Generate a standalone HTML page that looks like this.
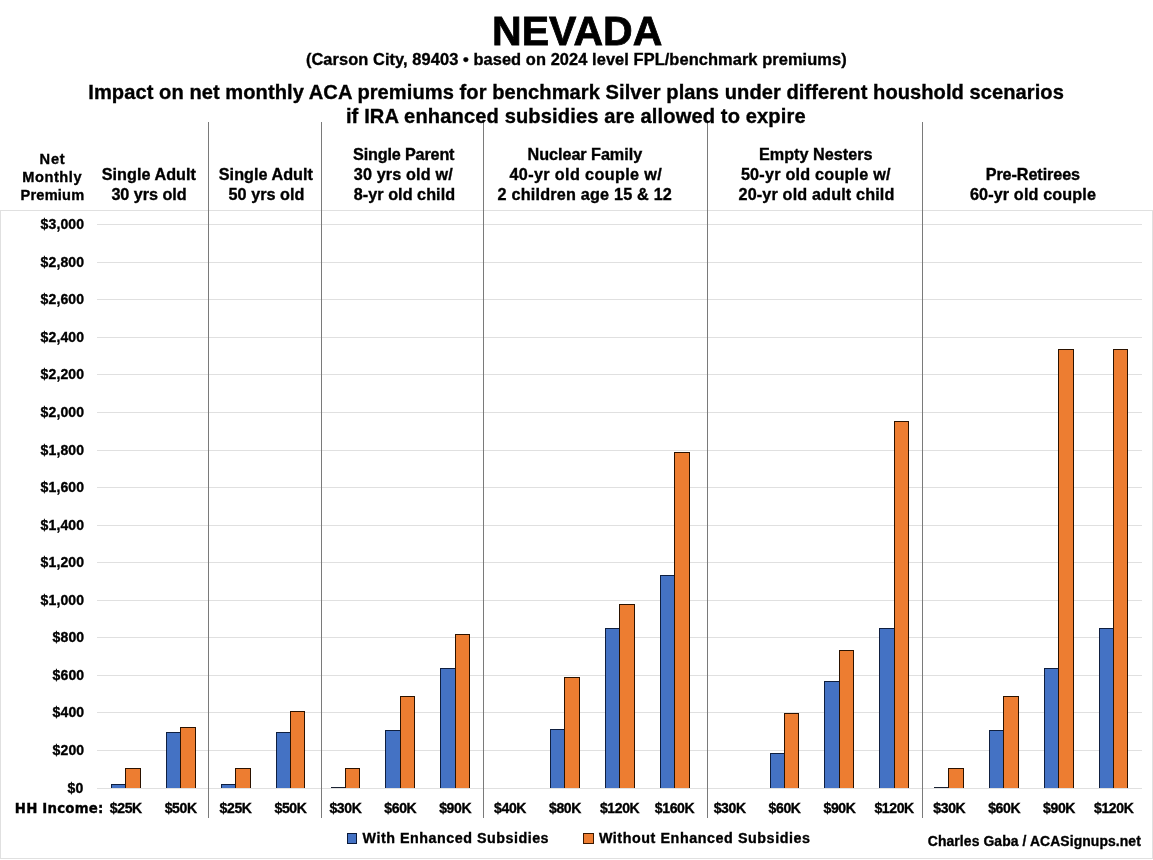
<!DOCTYPE html><html><head><meta charset="utf-8"><title>Nevada ACA premiums</title><style>*{margin:0;padding:0;box-sizing:border-box}
html,body{width:1153px;height:860px;overflow:hidden;background:#fff}
body{position:relative;font-weight:bold;color:#000}
.t{position:absolute;white-space:nowrap;font-weight:bold;-webkit-text-stroke:0.35px #000}
.ls{font-family:'Liberation Sans',Arial,sans-serif}
.dj{font-family:'DejaVu Sans',Verdana,sans-serif}
.g{position:absolute;height:1px;background:#e0e0e0}
.s{position:absolute;width:1px;background:#7a7a7a}
.b{position:absolute;background:#4472c4;border:1px solid #0f1f3f;border-bottom:0}
.o{position:absolute;background:#ed7d31;border:1px solid #2a1200;border-bottom:0}
.z{position:absolute;height:1px;background:#1a2233}
</style></head><body>
<div style="position:absolute;left:0;top:210px;width:1153px;height:649px;border:1px solid #e0e0e0"></div>
<div class="g" style="left:97px;top:788px;width:1045px"></div>
<div class="g" style="left:97px;top:750px;width:1045px"></div>
<div class="g" style="left:97px;top:712px;width:1045px"></div>
<div class="g" style="left:97px;top:675px;width:1045px"></div>
<div class="g" style="left:97px;top:637px;width:1045px"></div>
<div class="g" style="left:97px;top:600px;width:1045px"></div>
<div class="g" style="left:97px;top:562px;width:1045px"></div>
<div class="g" style="left:97px;top:525px;width:1045px"></div>
<div class="g" style="left:97px;top:487px;width:1045px"></div>
<div class="g" style="left:97px;top:450px;width:1045px"></div>
<div class="g" style="left:97px;top:412px;width:1045px"></div>
<div class="g" style="left:97px;top:374px;width:1045px"></div>
<div class="g" style="left:97px;top:337px;width:1045px"></div>
<div class="g" style="left:97px;top:299px;width:1045px"></div>
<div class="g" style="left:97px;top:262px;width:1045px"></div>
<div class="g" style="left:97px;top:224px;width:1045px"></div>
<div class="b" style="left:111px;top:784px;width:15px;height:4px"></div>
<div class="o" style="left:125px;top:768px;width:16px;height:20px"></div>
<div class="b" style="left:166px;top:732px;width:15px;height:56px"></div>
<div class="o" style="left:180px;top:727px;width:16px;height:61px"></div>
<div class="b" style="left:221px;top:784px;width:15px;height:4px"></div>
<div class="o" style="left:235px;top:768px;width:16px;height:20px"></div>
<div class="b" style="left:276px;top:732px;width:15px;height:56px"></div>
<div class="o" style="left:290px;top:711px;width:15px;height:77px"></div>
<div class="z" style="left:331px;top:787px;width:14px"></div>
<div class="o" style="left:345px;top:768px;width:15px;height:20px"></div>
<div class="b" style="left:385px;top:730px;width:16px;height:58px"></div>
<div class="o" style="left:400px;top:696px;width:15px;height:92px"></div>
<div class="b" style="left:440px;top:668px;width:16px;height:120px"></div>
<div class="o" style="left:455px;top:634px;width:15px;height:154px"></div>
<div class="b" style="left:550px;top:729px;width:15px;height:59px"></div>
<div class="o" style="left:564px;top:677px;width:16px;height:111px"></div>
<div class="b" style="left:605px;top:628px;width:15px;height:160px"></div>
<div class="o" style="left:619px;top:604px;width:16px;height:184px"></div>
<div class="b" style="left:660px;top:575px;width:15px;height:213px"></div>
<div class="o" style="left:674px;top:452px;width:16px;height:336px"></div>
<div class="b" style="left:770px;top:753px;width:15px;height:35px"></div>
<div class="o" style="left:784px;top:713px;width:15px;height:75px"></div>
<div class="b" style="left:824px;top:681px;width:16px;height:107px"></div>
<div class="o" style="left:839px;top:650px;width:15px;height:138px"></div>
<div class="b" style="left:879px;top:628px;width:16px;height:160px"></div>
<div class="o" style="left:894px;top:421px;width:15px;height:367px"></div>
<div class="z" style="left:934px;top:787px;width:14px"></div>
<div class="o" style="left:948px;top:768px;width:16px;height:20px"></div>
<div class="b" style="left:989px;top:730px;width:15px;height:58px"></div>
<div class="o" style="left:1003px;top:696px;width:16px;height:92px"></div>
<div class="b" style="left:1044px;top:668px;width:15px;height:120px"></div>
<div class="o" style="left:1058px;top:349px;width:16px;height:439px"></div>
<div class="b" style="left:1099px;top:628px;width:15px;height:160px"></div>
<div class="o" style="left:1113px;top:349px;width:15px;height:439px"></div>
<div class="s" style="left:208px;top:122px;height:696px"></div>
<div class="s" style="left:321px;top:122px;height:696px"></div>
<div class="s" style="left:483px;top:122px;height:696px"></div>
<div class="s" style="left:707px;top:122px;height:696px"></div>
<div class="s" style="left:922px;top:122px;height:696px"></div>
<div style="position:absolute;left:347px;top:833px;width:10px;height:11px;background:#4472c4;border:1px solid #0a1a3a"></div>
<div style="position:absolute;left:583px;top:833px;width:11px;height:11px;background:#ed7d31;border:1px solid #3a1800"></div>
<div class="t ls" style="left:492px;top:10.9px;font-size:41px;line-height:41px;letter-spacing:0.05px;-webkit-text-stroke:0.8px #000">NEVADA</div>
<div class="t ls" style="left:305.9px;top:50.6px;font-size:16.4px;line-height:16.4px;letter-spacing:0.08px">(Carson City, 89403 • based on 2024 level FPL/benchmark premiums)</div>
<div class="t ls" style="left:88.3px;top:81.8px;font-size:20.1px;line-height:20.1px;letter-spacing:0.06px">Impact on net monthly ACA premiums for benchmark Silver plans under different houshold scenarios</div>
<div class="t ls" style="left:345.9px;top:105.8px;font-size:20.1px;line-height:20.1px;letter-spacing:0.13px">if IRA enhanced subsidies are allowed to expire</div>
<div class="t ls" style="left:39.6px;top:151.8px;font-size:14.6px;line-height:14.6px;letter-spacing:0.75px">Net</div>
<div class="t ls" style="left:22.3px;top:170.0px;font-size:14.6px;line-height:14.6px;letter-spacing:0.55px">Monthly</div>
<div class="t ls" style="left:20.6px;top:187.7px;font-size:14.6px;line-height:14.6px;letter-spacing:0.18px">Premium</div>
<div class="t ls" style="left:101.7px;top:165.8px;font-size:16.2px;line-height:16.2px;letter-spacing:0.04px">Single Adult</div>
<div class="t ls" style="left:111.4px;top:185.7px;font-size:16.2px;line-height:16.2px;letter-spacing:-0.03px">30 yrs old</div>
<div class="t ls" style="left:218.8px;top:165.8px;font-size:16.2px;line-height:16.2px;letter-spacing:0.03px">Single Adult</div>
<div class="t ls" style="left:228.6px;top:185.7px;font-size:16.2px;line-height:16.2px;letter-spacing:0.02px">50 yrs old</div>
<div class="t ls" style="left:353.1px;top:146.4px;font-size:16.2px;line-height:16.2px;letter-spacing:-0.17px">Single Parent</div>
<div class="t ls" style="left:353.8px;top:166.1px;font-size:16.2px;line-height:16.2px;letter-spacing:0.14px">30 yrs old w/</div>
<div class="t ls" style="left:353.8px;top:185.7px;font-size:16.2px;line-height:16.2px;letter-spacing:0.04px">8-yr old child</div>
<div class="t ls" style="left:527.5px;top:146.4px;font-size:16.2px;line-height:16.2px;letter-spacing:-0.04px">Nuclear Family</div>
<div class="t ls" style="left:509.5px;top:166.1px;font-size:16.2px;line-height:16.2px;letter-spacing:0.36px">40-yr old couple w/</div>
<div class="t ls" style="left:497.6px;top:185.7px;font-size:16.2px;line-height:16.2px;letter-spacing:0.2px">2 children age 15 &amp; 12</div>
<div class="t ls" style="left:758.9px;top:146.4px;font-size:16.2px;line-height:16.2px;letter-spacing:0.03px">Empty Nesters</div>
<div class="t ls" style="left:740.9px;top:166.1px;font-size:16.2px;line-height:16.2px;letter-spacing:0.22px">50-yr old couple w/</div>
<div class="t ls" style="left:738.5px;top:185.7px;font-size:16.2px;line-height:16.2px;letter-spacing:0.15px">20-yr old adult child</div>
<div class="t ls" style="left:985.7px;top:165.8px;font-size:16.2px;line-height:16.2px;letter-spacing:-0.09px">Pre-Retirees</div>
<div class="t ls" style="left:969.9px;top:185.7px;font-size:16.2px;line-height:16.2px;letter-spacing:0.13px">60-yr old couple</div>
<div class="t dj" style="left:14.8px;top:801.6px;font-size:13.3px;line-height:13.3px;letter-spacing:0.23px">HH Income:</div>
<div class="t ls" style="left:362.5px;top:830.9px;font-size:14.3px;line-height:14.3px;letter-spacing:0.52px">With Enhanced Subsidies</div>
<div class="t ls" style="left:598.9px;top:830.9px;font-size:14.3px;line-height:14.3px;letter-spacing:0.57px">Without Enhanced Subsidies</div>
<div class="t ls" style="left:927.8px;top:834.5px;font-size:13.9px;line-height:13.9px;letter-spacing:0.1px">Charles Gaba / ACASignups.net</div>
<div class="t ls" style="left:109.8px;top:800.6px;font-size:14px;line-height:14px;letter-spacing:-0.37px">$25K</div>
<div class="t ls" style="left:164.7px;top:800.6px;font-size:14px;line-height:14px;letter-spacing:-0.37px">$50K</div>
<div class="t ls" style="left:219.6px;top:800.6px;font-size:14px;line-height:14px;letter-spacing:-0.37px">$25K</div>
<div class="t ls" style="left:274.5px;top:800.6px;font-size:14px;line-height:14px;letter-spacing:-0.37px">$50K</div>
<div class="t ls" style="left:329.4px;top:800.6px;font-size:14px;line-height:14px;letter-spacing:-0.37px">$30K</div>
<div class="t ls" style="left:384.3px;top:800.6px;font-size:14px;line-height:14px;letter-spacing:-0.37px">$60K</div>
<div class="t ls" style="left:439.2px;top:800.6px;font-size:14px;line-height:14px;letter-spacing:-0.37px">$90K</div>
<div class="t ls" style="left:494.1px;top:800.6px;font-size:14px;line-height:14px;letter-spacing:-0.37px">$40K</div>
<div class="t ls" style="left:549.0px;top:800.6px;font-size:14px;line-height:14px;letter-spacing:-0.37px">$80K</div>
<div class="t ls" style="left:599.9px;top:800.6px;font-size:14px;line-height:14px;letter-spacing:-0.37px">$120K</div>
<div class="t ls" style="left:654.8px;top:800.6px;font-size:14px;line-height:14px;letter-spacing:-0.37px">$160K</div>
<div class="t ls" style="left:713.7px;top:800.6px;font-size:14px;line-height:14px;letter-spacing:-0.37px">$30K</div>
<div class="t ls" style="left:768.6px;top:800.6px;font-size:14px;line-height:14px;letter-spacing:-0.37px">$60K</div>
<div class="t ls" style="left:823.5px;top:800.6px;font-size:14px;line-height:14px;letter-spacing:-0.37px">$90K</div>
<div class="t ls" style="left:874.4px;top:800.6px;font-size:14px;line-height:14px;letter-spacing:-0.37px">$120K</div>
<div class="t ls" style="left:933.3px;top:800.6px;font-size:14px;line-height:14px;letter-spacing:-0.37px">$30K</div>
<div class="t ls" style="left:988.2px;top:800.6px;font-size:14px;line-height:14px;letter-spacing:-0.37px">$60K</div>
<div class="t ls" style="left:1043.1px;top:800.6px;font-size:14px;line-height:14px;letter-spacing:-0.37px">$90K</div>
<div class="t ls" style="left:1094.0px;top:800.6px;font-size:14px;line-height:14px;letter-spacing:-0.37px">$120K</div>
<div class="t ls" style="left:67.6px;top:780.9px;font-size:14px;line-height:14px;letter-spacing:0.12px">$0</div>
<div class="t ls" style="left:52.6px;top:742.9px;font-size:14px;line-height:14px;letter-spacing:0.12px">$200</div>
<div class="t ls" style="left:52.6px;top:704.9px;font-size:14px;line-height:14px;letter-spacing:0.12px">$400</div>
<div class="t ls" style="left:52.6px;top:667.9px;font-size:14px;line-height:14px;letter-spacing:0.12px">$600</div>
<div class="t ls" style="left:52.6px;top:629.9px;font-size:14px;line-height:14px;letter-spacing:0.12px">$800</div>
<div class="t ls" style="left:40.6px;top:592.9px;font-size:14px;line-height:14px;letter-spacing:0.12px">$1,000</div>
<div class="t ls" style="left:40.6px;top:554.9px;font-size:14px;line-height:14px;letter-spacing:0.12px">$1,200</div>
<div class="t ls" style="left:40.6px;top:517.9px;font-size:14px;line-height:14px;letter-spacing:0.12px">$1,400</div>
<div class="t ls" style="left:40.6px;top:479.9px;font-size:14px;line-height:14px;letter-spacing:0.12px">$1,600</div>
<div class="t ls" style="left:40.6px;top:442.9px;font-size:14px;line-height:14px;letter-spacing:0.12px">$1,800</div>
<div class="t ls" style="left:40.6px;top:404.9px;font-size:14px;line-height:14px;letter-spacing:0.12px">$2,000</div>
<div class="t ls" style="left:40.6px;top:366.9px;font-size:14px;line-height:14px;letter-spacing:0.12px">$2,200</div>
<div class="t ls" style="left:40.6px;top:329.9px;font-size:14px;line-height:14px;letter-spacing:0.12px">$2,400</div>
<div class="t ls" style="left:40.6px;top:291.9px;font-size:14px;line-height:14px;letter-spacing:0.12px">$2,600</div>
<div class="t ls" style="left:40.6px;top:254.9px;font-size:14px;line-height:14px;letter-spacing:0.12px">$2,800</div>
<div class="t ls" style="left:40.6px;top:216.9px;font-size:14px;line-height:14px;letter-spacing:0.12px">$3,000</div>
</body></html>
